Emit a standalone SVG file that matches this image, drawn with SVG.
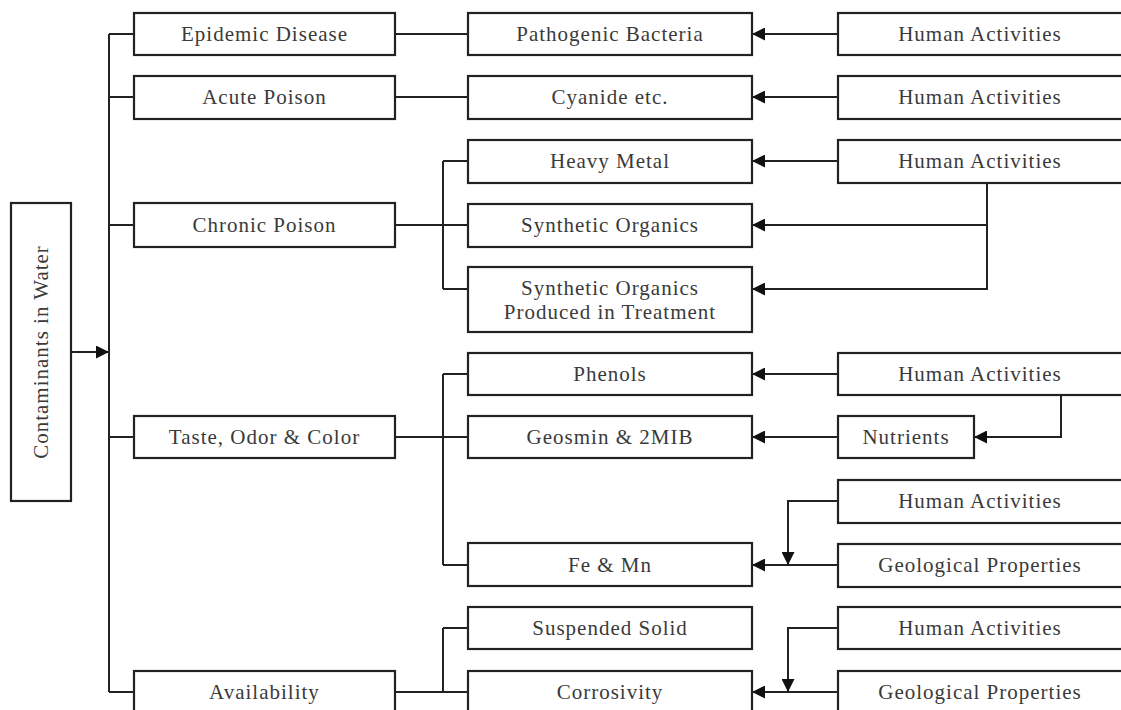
<svg xmlns="http://www.w3.org/2000/svg" width="1121" height="710" viewBox="0 0 1121 710">
<defs>
<style>
.box{fill:#fff;stroke:#222;stroke-width:2.2}
.t{font-family:"Liberation Serif","Times New Roman",serif;font-size:21px;letter-spacing:1px;fill:#3a3a3a;text-anchor:middle}
.c{fill:none;stroke:#222;stroke-width:2}
</style>
<marker id="ah" viewBox="0 0 10 10" refX="10" refY="5" markerWidth="13" markerHeight="13" markerUnits="userSpaceOnUse" orient="auto">
<path d="M0,0 L10,5 L0,10 z" fill="#111"/>
</marker>
</defs>
<rect width="1121" height="710" fill="#fff"/>
<g id="connectors">
<path class="c" d="M109,34 V692"/>
<path class="c" d="M109,34 H134 M109,97 H134 M109,225 H134 M109,437 H134 M109,692 H134"/>
<path class="c" d="M71,352 H109" marker-end="url(#ah)"/>
<path class="c" d="M395,34 H468 M395,97 H468 M395,225 H468 M395,437 H468 M395,692 H468"/>
<path class="c" d="M443,161 V289 M443,161 H468 M443,289 H468"/>
<path class="c" d="M443,374 V565 M443,374 H468 M443,565 H468"/>
<path class="c" d="M443,628 V692 M443,628 H468"/>
<path class="c" d="M838,34 H752" marker-end="url(#ah)"/>
<path class="c" d="M838,97 H752" marker-end="url(#ah)"/>
<path class="c" d="M838,161 H752" marker-end="url(#ah)"/>
<path class="c" d="M987,183 V225 H752" marker-end="url(#ah)"/>
<path class="c" d="M987,225 V289 H752" marker-end="url(#ah)"/>
<path class="c" d="M838,374 H752" marker-end="url(#ah)"/>
<path class="c" d="M838,437 H752" marker-end="url(#ah)"/>
<path class="c" d="M1061,395 V437 H974" marker-end="url(#ah)"/>
<path class="c" d="M838,565 H752" marker-end="url(#ah)"/>
<path class="c" d="M838,501 H788 V565" marker-end="url(#ah)"/>
<path class="c" d="M838,692 H752" marker-end="url(#ah)"/>
<path class="c" d="M838,628 H788 V692" marker-end="url(#ah)"/>
</g>
<g id="contaminants"><rect class="box" x="11" y="203" width="60" height="298"/><text class="t" transform="translate(48,352) rotate(-90)">Contaminants in Water</text></g>
<g id="epidemic"><rect class="box" x="134" y="13" width="261" height="42"/><text class="t" x="264.5" y="41">Epidemic Disease</text></g>
<g id="acute"><rect class="box" x="134" y="76" width="261" height="43"/><text class="t" x="264.5" y="104">Acute Poison</text></g>
<g id="chronic"><rect class="box" x="134" y="203" width="261" height="44"/><text class="t" x="264.5" y="232">Chronic Poison</text></g>
<g id="taste"><rect class="box" x="134" y="416" width="261" height="42"/><text class="t" x="264.5" y="444">Taste, Odor &amp; Color</text></g>
<g id="availability"><rect class="box" x="134" y="671" width="261" height="44"/><text class="t" x="264.5" y="699">Availability</text></g>
<g id="pathogenic"><rect class="box" x="468" y="13" width="284" height="42"/><text class="t" x="610" y="41">Pathogenic Bacteria</text></g>
<g id="cyanide"><rect class="box" x="468" y="76" width="284" height="43"/><text class="t" x="610" y="104">Cyanide etc.</text></g>
<g id="heavy"><rect class="box" x="468" y="140" width="284" height="43"/><text class="t" x="610" y="168">Heavy Metal</text></g>
<g id="synthetic"><rect class="box" x="468" y="204" width="284" height="43"/><text class="t" x="610" y="232">Synthetic Organics</text></g>
<g id="synthetic2"><rect class="box" x="468" y="267" width="284" height="65"/><text class="t" x="610" y="295">Synthetic Organics</text><text class="t" x="610" y="319">Produced in Treatment</text></g>
<g id="phenols"><rect class="box" x="468" y="353" width="284" height="42"/><text class="t" x="610" y="381">Phenols</text></g>
<g id="geosmin"><rect class="box" x="468" y="416" width="284" height="42"/><text class="t" x="610" y="444">Geosmin &amp; 2MIB</text></g>
<g id="femn"><rect class="box" x="468" y="543" width="284" height="43"/><text class="t" x="610" y="572">Fe &amp; Mn</text></g>
<g id="suspended"><rect class="box" x="468" y="607" width="284" height="42"/><text class="t" x="610" y="635">Suspended Solid</text></g>
<g id="corrosivity"><rect class="box" x="468" y="671" width="284" height="44"/><text class="t" x="610" y="699">Corrosivity</text></g>
<g id="ha1"><rect class="box" x="838" y="13" width="290" height="42"/><text class="t" x="980" y="41">Human Activities</text></g>
<g id="ha2"><rect class="box" x="838" y="76" width="290" height="43"/><text class="t" x="980" y="104">Human Activities</text></g>
<g id="ha3"><rect class="box" x="838" y="140" width="290" height="43"/><text class="t" x="980" y="168">Human Activities</text></g>
<g id="ha4"><rect class="box" x="838" y="353" width="290" height="42"/><text class="t" x="980" y="381">Human Activities</text></g>
<g id="nutrients"><rect class="box" x="838" y="416" width="136" height="42"/><text class="t" x="906" y="444">Nutrients</text></g>
<g id="ha5"><rect class="box" x="838" y="480" width="290" height="43"/><text class="t" x="980" y="508">Human Activities</text></g>
<g id="geo1"><rect class="box" x="838" y="544" width="290" height="43"/><text class="t" x="980" y="572">Geological Properties</text></g>
<g id="ha6"><rect class="box" x="838" y="607" width="290" height="42"/><text class="t" x="980" y="635">Human Activities</text></g>
<g id="geo2"><rect class="box" x="838" y="671" width="290" height="44"/><text class="t" x="980" y="699">Geological Properties</text></g>
</svg>
